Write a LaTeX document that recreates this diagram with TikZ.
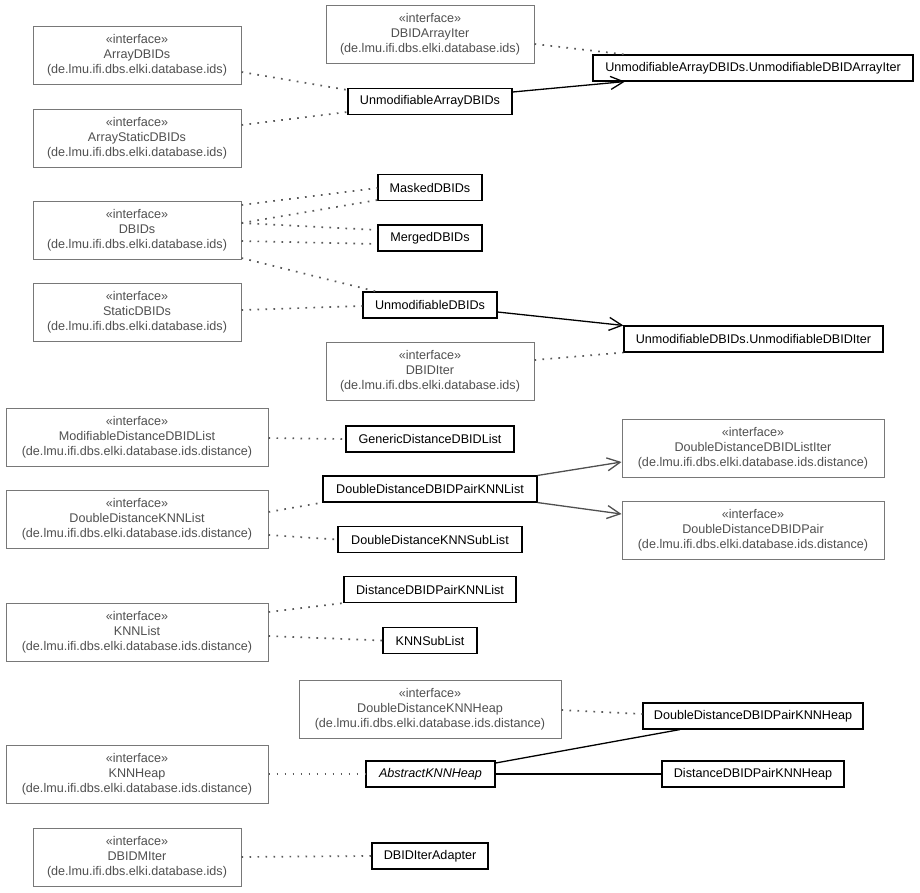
\documentclass[tikz,border=0pt]{standalone}
\usepackage{fontspec}
\setmainfont{Liberation Sans}
\usetikzlibrary{arrows.meta}
\definecolor{ifborder}{RGB}{120,120,120}
\definecolor{iftext}{RGB}{80,80,80}
\definecolor{dotcol}{RGB}{90,90,90}
\definecolor{arrgray}{RGB}{80,80,80}
\begin{document}
\begin{tikzpicture}[x=1pt,y=-1pt,
  every node/.style={font=\fontsize{12.6}{15}\selectfont, inner sep=0pt, align=center},
  iface/.style={draw=ifborder, line width=1pt, text=iftext, minimum height=58pt},
  ifn/.style={iface, minimum width=208pt},
  ifw/.style={iface, minimum width=262pt},
  cls/.style={draw=black, line width=1.1pt, text=black, minimum height=26pt},
  real/.style={draw=dotcol, line width=1.7pt, dash pattern=on 1.7pt off 6.3pt},
  assoc/.style={draw=black, line width=1.3pt, -{Straight Barb[length=13pt,width=13pt,line width=1.3pt]}},
  gassoc/.style={draw=arrgray, line width=1.3pt, -{Straight Barb[length=13pt,width=13pt,line width=1.3pt]}},
  link/.style={draw=black, line width=1.3pt}
]
\fill[white] (0,0) rectangle (920,892);
\useasboundingbox (0,0) rectangle (920,892);

% interfaces
\node[ifn] (arraydbids) at (137,55.5) {«interface»\\ArrayDBIDs\\(de.lmu.ifi.dbs.elki.database.ids)};
\node[ifn] (arraystatic) at (137,138) {«interface»\\ArrayStaticDBIDs\\(de.lmu.ifi.dbs.elki.database.ids)};
\node[ifn] (dbidarrayiter) at (430,34) {«interface»\\DBIDArrayIter\\(de.lmu.ifi.dbs.elki.database.ids)};
\node[ifn] (dbids) at (137,230) {«interface»\\DBIDs\\(de.lmu.ifi.dbs.elki.database.ids)};
\node[ifn] (staticdbids) at (137,312.5) {«interface»\\StaticDBIDs\\(de.lmu.ifi.dbs.elki.database.ids)};
\node[ifn] (dbiditer) at (430,371) {«interface»\\DBIDIter\\(de.lmu.ifi.dbs.elki.database.ids)};
\node[ifw] (moddist) at (137,437.5) {«interface»\\ModifiableDistanceDBIDList\\(de.lmu.ifi.dbs.elki.database.ids.distance)};
\node[ifw] (ddknnlist) at (137,519.5) {«interface»\\DoubleDistanceKNNList\\(de.lmu.ifi.dbs.elki.database.ids.distance)};
\node[ifw] (ddlistiter) at (753,448) {«interface»\\DoubleDistanceDBIDListIter\\(de.lmu.ifi.dbs.elki.database.ids.distance)};
\node[ifw] (ddpair) at (753,530) {«interface»\\DoubleDistanceDBIDPair\\(de.lmu.ifi.dbs.elki.database.ids.distance)};
\node[ifw] (knnlist) at (137,632) {«interface»\\KNNList\\(de.lmu.ifi.dbs.elki.database.ids.distance)};
\node[ifw] (ddknnheap) at (430,709) {«interface»\\DoubleDistanceKNNHeap\\(de.lmu.ifi.dbs.elki.database.ids.distance)};
\node[ifw] (knnheap) at (137,774) {«interface»\\KNNHeap\\(de.lmu.ifi.dbs.elki.database.ids.distance)};
\node[ifn] (dbidmiter) at (137,857) {«interface»\\DBIDMIter\\(de.lmu.ifi.dbs.elki.database.ids)};

% classes
\node[cls, minimum width=164pt] (uad) at (430,101.5) {UnmodifiableArrayDBIDs};
\node[cls, minimum width=320pt] (udai) at (753,68) {UnmodifiableArrayDBIDs.UnmodifiableDBIDArrayIter};
\node[cls, minimum width=104pt] (masked) at (430,187.5) {MaskedDBIDs};
\node[cls, minimum width=104pt] (merged) at (430,238) {MergedDBIDs};
\node[cls, minimum width=134pt] (ud) at (430,305) {UnmodifiableDBIDs};
\node[cls, minimum width=259pt] (udi) at (753.5,339) {UnmodifiableDBIDs.UnmodifiableDBIDIter};
\node[cls, minimum width=168pt] (gddl) at (430,439) {GenericDistanceDBIDList};
\node[cls, minimum width=214pt] (dddpknnlist) at (430,489) {DoubleDistanceDBIDPairKNNList};
\node[cls, minimum width=184pt] (ddknnsub) at (430,539.5) {DoubleDistanceKNNSubList};
\node[cls, minimum width=172pt] (dpknnlist) at (430,589.5) {DistanceDBIDPairKNNList};
\node[cls, minimum width=94pt] (knnsub) at (430,640.5) {KNNSubList};
\node[cls, minimum width=220pt] (dddpknnheap) at (753,716) {DoubleDistanceDBIDPairKNNHeap};
\node[cls, minimum width=129pt, font=\fontsize{12.6}{15}\selectfont\itshape] (akh) at (430.5,774) {AbstractKNNHeap};
\node[cls, minimum width=182pt] (dpknnheap) at (753,774) {DistanceDBIDPairKNNHeap};
\node[cls, minimum width=116pt] (iteradapter) at (430,856) {DBIDIterAdapter};

% realizations (dotted)
\draw[real] (arraydbids.east |- 0,72) -- (uad.west |- 0,90);
\draw[real] (arraystatic.east |- 0,125) -- (uad.west |- 0,112);
\draw[real] (dbidarrayiter.east |- 0,44) -- (udai.north -| 625,0);
\draw[real] (dbids.east |- 0,205) -- (masked.west |- 0,188);
\draw[real] (dbids.east |- 0,223) -- (masked.west |- 0,200);
\draw[real] (dbids.east |- 0,223) -- (merged.west |- 0,230);
\draw[real] (dbids.east |- 0,241) -- (merged.west |- 0,244);
\draw[real] (dbids.east |- 0,258) -- (ud.north -| 376,0);
\draw[real] (staticdbids.east |- 0,310) -- (ud.west |- 0,306);
\draw[real] (dbiditer.east |- 0,360) -- (udi.south west);
\draw[real] (moddist.east |- 0,438) -- (gddl.west);
\draw[real] (ddknnlist.east |- 0,512) -- (dddpknnlist.south west);
\draw[real] (ddknnlist.east |- 0,535) -- (ddknnsub.west);
\draw[real] (knnlist.east |- 0,612) -- (dpknnlist.south west);
\draw[real] (knnlist.east |- 0,636) -- (knnsub.west);
\draw[real] (ddknnheap.east |- 0,710) -- (dddpknnheap.west |- 0,714);
\draw[real] (knnheap.east) -- (akh.west);
\draw[real] (dbidmiter.east) -- (iteradapter.west);

% associations
\draw[assoc] (uad.east |- 0,92) -- (udai.south -| 625,0);
\draw[assoc] (ud.east |- 0,312) -- (udi.north west);
\draw[gassoc] (dddpknnlist.north east) -- (ddlistiter.west |- 0,462);
\draw[gassoc] (dddpknnlist.south east) -- (ddpair.west |- 0,514);
\draw[link] (akh.east |- 0,763) -- (dddpknnheap.south -| 680,0);
\draw[link] (akh.east) -- (dpknnheap.west);
\end{tikzpicture}
\end{document}
